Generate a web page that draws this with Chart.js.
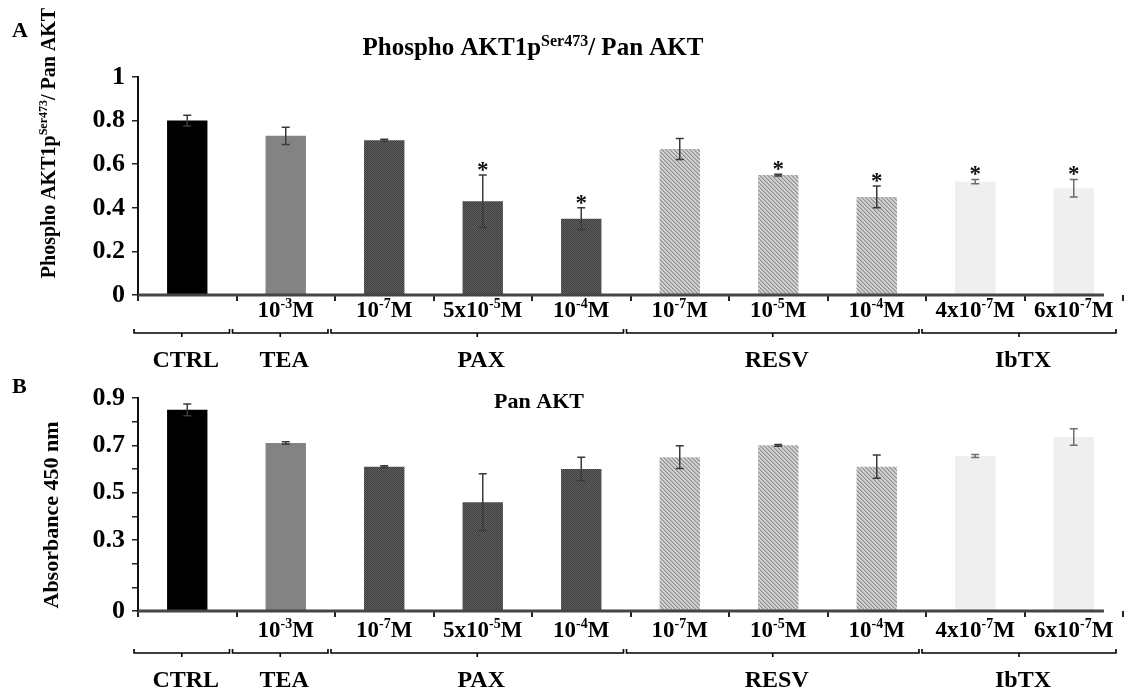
<!DOCTYPE html>
<html>
<head>
<meta charset="utf-8">
<script src="https://cdn.jsdelivr.net/npm/chart.js@4"></script>
<style>
  body { margin: 0; background: #fff; }
  #wrap { position: relative; width: 1147px; height: 691px; overflow: hidden; }
  canvas { position: absolute; left: 0; }
</style>
</head>
<body>
<div id="wrap">
  <canvas id="phospho-chart" width="1147" height="370" style="top:0"></canvas>
  <canvas id="pan-chart" width="1147" height="321" style="top:370px"></canvas>
</div>
<script>
const categories = ['CTRL', 'TEA 10-3M', 'PAX 10-7M', 'PAX 5x10-5M', 'PAX 10-4M',
    'RESV 10-7M', 'RESV 10-5M', 'RESV 10-4M', 'IbTX 4x10-7M', 'IbTX 6x10-7M'];
// dose label pieces: [base, superscript, suffix]
const doseLabels = [null, ['10', '-3', 'M'], ['10', '-7', 'M'], ['5x10', '-5', 'M'], ['10', '-4', 'M'],
    ['10', '-7', 'M'], ['10', '-5', 'M'], ['10', '-4', 'M'], ['4x10', '-7', 'M'], ['6x10', '-7', 'M']];
const groupNames = ['CTRL', 'TEA', 'PAX', 'RESV', 'IbTX'];
const groupOf = [0, 1, 2, 2, 2, 3, 3, 3, 4, 4];

const phosphoValues = [0.80, 0.73, 0.71, 0.43, 0.35, 0.67, 0.55, 0.45, 0.52, 0.49];
const phosphoErrors = [0.025, 0.04, 0.005, 0.12, 0.05, 0.048, 0.004, 0.05, 0.01, 0.04];
const phosphoStars = [false, false, false, true, true, false, true, true, true, true];
const phosphoTicks = [0, 0.2, 0.4, 0.6, 0.8, 1];

const panValues = [0.85, 0.71, 0.61, 0.46, 0.60, 0.65, 0.70, 0.61, 0.655, 0.735];
const panErrors = [0.025, 0.005, 0.004, 0.12, 0.05, 0.048, 0.004, 0.049, 0.006, 0.035];
const panTickLabels = [0, 0.3, 0.5, 0.7, 0.9];

const FONT = '"Liberation Serif", "Times New Roman", serif';

function makePattern(size, draw) {
    const c = document.createElement('canvas');
    c.width = size;
    c.height = size;
    draw(c.getContext('2d'));
    return c.getContext('2d').createPattern(c, 'repeat');
}

// PAX: dark checker, RESV: light diagonal hatch
const paxFill = makePattern(4, g => {
    g.fillStyle = '#616161';
    g.fillRect(0, 0, 4, 4);
    g.fillStyle = '#3d3d3d';
    g.fillRect(0, 0, 1, 1); g.fillRect(2, 0, 1, 1);
    g.fillRect(1, 1, 1, 1); g.fillRect(3, 1, 1, 1);
    g.fillRect(0, 2, 1, 1); g.fillRect(2, 2, 1, 1);
    g.fillRect(1, 3, 1, 1); g.fillRect(3, 3, 1, 1);
});
const resvFill = makePattern(4, g => {
    g.fillStyle = '#d2d2d2';
    g.fillRect(0, 0, 4, 4);
    g.fillStyle = '#929292';
    for (let i = 0; i < 4; i++) g.fillRect(i, i, 1, 1);
    g.fillStyle = '#b0b0b0';
    for (let i = 0; i < 4; i++) g.fillRect((i + 1) % 4, i, 1, 1);
});
const groupFills = ['#000000', '#838383', paxFill, resvFill, '#efefef'];
const barFills = groupOf.map(g => groupFills[g]);

function richText(ctx, parts, x, y, size, align) {
    const big = 'bold ' + size + 'px ' + FONT;
    const small = 'bold ' + Math.round(size * 0.62) + 'px ' + FONT;
    let w = 0;
    parts.forEach(p => { ctx.font = p[1] ? small : big; w += ctx.measureText(p[0]).width; });
    let cx = align === 'center' ? x - w / 2 : x;
    ctx.textAlign = 'left';
    ctx.textBaseline = 'alphabetic';
    parts.forEach(p => {
        ctx.font = p[1] ? small : big;
        ctx.fillText(p[0], cx, p[1] ? y - size * 0.38 : y);
        cx += ctx.measureText(p[0]).width;
    });
}

function overlayPlugin(opts) {
    return {
        id: 'overlay',
        afterDatasetsDraw(chart) {
            const ctx = chart.ctx;
            const xs = chart.scales.x, ys = chart.scales.y;
            ctx.save();
            // x axis line, stopping just past the last bar
            const meta = chart.getDatasetMeta(0);
            const last = meta.data[meta.data.length - 1];
            ctx.strokeStyle = '#454545';
            ctx.lineWidth = 3;
            ctx.beginPath();
            ctx.moveTo(chart.chartArea.left, chart.chartArea.bottom);
            ctx.lineTo(last.x + last.width / 2 + 10, chart.chartArea.bottom);
            ctx.stroke();

            ctx.lineWidth = 1.5;
            opts.values.forEach((v, i) => {
                const x = xs.getPixelForValue(i);
                const t = ys.getPixelForValue(v + opts.errors[i]);
                const b = ys.getPixelForValue(v - opts.errors[i]);
                ctx.strokeStyle = groupOf[i] === 4 ? '#6e6e6e' : '#3a3a3a';
                ctx.beginPath();
                ctx.moveTo(x, t); ctx.lineTo(x, b);
                ctx.moveTo(x - 4, t); ctx.lineTo(x + 4, t);
                ctx.moveTo(x - 4, b); ctx.lineTo(x + 4, b);
                ctx.stroke();
                if (opts.stars && opts.stars[i]) {
                    ctx.fillStyle = '#111';
                    ctx.font = 'bold 23px ' + FONT;
                    ctx.textAlign = 'center';
                    ctx.textBaseline = 'alphabetic';
                    ctx.fillText('*', x, t + 2);
                }
            });
            ctx.restore();
        },
        afterDraw(chart) {
            const ctx = chart.ctx;
            const xs = chart.scales.x;
            const axisY = chart.chartArea.bottom;
            ctx.save();
            ctx.fillStyle = '#000';
            // dose labels under each bar
            doseLabels.forEach((d, i) => {
                if (!d) return;
                richText(ctx, [[d[0], false], [d[1], true], [d[2], false]],
                    xs.getPixelForValue(i), axisY + opts.doseOffset, 23, 'center');
            });
            // group brackets and names
            const step = xs.getPixelForValue(1) - xs.getPixelForValue(0);
            ctx.strokeStyle = '#000';
            ctx.lineWidth = 1.6;
            groupNames.forEach((name, g) => {
                const idx = groupOf.map((v, i) => v === g ? i : -1).filter(i => i >= 0);
                const x0 = xs.getPixelForValue(idx[0]) - step / 2 - 4;
                const x1 = xs.getPixelForValue(idx[idx.length - 1]) + step / 2 - 7;
                const by = axisY + opts.bracketOffset;
                const mid = (x0 + x1) / 2;
                ctx.beginPath();
                ctx.moveTo(x0, by - 4); ctx.lineTo(x0, by); ctx.lineTo(x1, by); ctx.lineTo(x1, by - 4);
                ctx.moveTo(mid, by); ctx.lineTo(mid, by + 4);
                ctx.stroke();
                ctx.font = 'bold 24px ' + FONT;
                ctx.textAlign = 'center';
                ctx.textBaseline = 'alphabetic';
                ctx.fillText(name, mid + 4, by + opts.groupOffset);
            });
            // panel letter
            ctx.font = 'bold 22px ' + FONT;
            ctx.textAlign = 'left';
            ctx.fillText(opts.letter, 12, opts.letterY);
            // chart title
            richText(ctx, opts.title, opts.titleX, opts.titleY, opts.titleSize, 'center');
            // y axis title, rotated
            ctx.translate(opts.yTitleX, opts.yTitleY);
            ctx.rotate(-Math.PI / 2);
            richText(ctx, opts.yTitle, 0, 0, opts.yTitleSize, 'center');
            ctx.restore();
        }
    };
}

function makeConfig(values, yOpts, area, overlay) {
    return {
        type: 'bar',
        data: {
            labels: categories,
            datasets: [{
                data: values,
                backgroundColor: barFills,
                borderWidth: 0,
                categoryPercentage: 1,
                barPercentage: 0.41
            }]
        },
        options: {
            responsive: false,
            animation: false,
            devicePixelRatio: 1,
            layout: { padding: { top: area.top, right: 24, left: 0, bottom: 0 } },
            plugins: { legend: { display: false }, tooltip: { enabled: false } },
            scales: {
                x: {
                    grid: {
                        display: true, drawOnChartArea: false, drawTicks: true, tickLength: 6, lineWidth: 2,
                        color: c => c.index >= categories.length ? 'rgba(0,0,0,0)' : '#222'
                    },
                    border: { display: false },
                    ticks: { callback: () => '' },
                    afterFit: s => { s.height = area.xHeight; }
                },
                y: Object.assign({
                    min: 0,
                    grid: { display: true, drawOnChartArea: false, drawTicks: true, tickLength: 6, color: '#222', lineWidth: 1.5 },
                    border: { display: true, color: '#111', width: 2 },
                    afterFit: s => { s.width = 138; }
                }, yOpts)
            }
        },
        plugins: [overlayPlugin(overlay)]
    };
}

const tickFont = { family: FONT, size: 26, weight: 'bold' };

const phosphoChart = new Chart(
    document.getElementById('phospho-chart'),
    makeConfig(phosphoValues, {
        max: 1,
        ticks: {
            stepSize: 0.2, padding: 7, color: '#000', autoSkip: false, font: tickFont,
            callback: v => phosphoTicks.includes(Math.round(v * 10) / 10) ? String(Math.round(v * 10) / 10) : ''
        }
    }, { top: 77, xHeight: 75 }, {
        values: phosphoValues, errors: phosphoErrors, stars: phosphoStars,
        doseOffset: 22, bracketOffset: 38, groupOffset: 34,
        letter: 'A', letterY: 37,
        title: [['Phospho AKT1p', false], ['Ser473', true], ['/ Pan AKT', false]],
        titleX: 533, titleY: 55, titleSize: 25,
        yTitle: [['Phospho AKT1p', false], ['Ser473', true], ['/ Pan AKT', false]],
        yTitleX: 55, yTitleY: 143, yTitleSize: 20
    })
);

const panChart = new Chart(
    document.getElementById('pan-chart'),
    makeConfig(panValues, {
        max: 0.9,
        ticks: {
            stepSize: 0.1, padding: 7, color: '#000', autoSkip: false, font: tickFont,
            callback: v => panTickLabels.includes(Math.round(v * 10) / 10) ? String(Math.round(v * 10) / 10) : ''
        }
    }, { top: 28, xHeight: 80 }, {
        values: panValues, errors: panErrors, stars: null,
        doseOffset: 26, bracketOffset: 42, groupOffset: 34,
        letter: 'B', letterY: 23,
        title: [['Pan AKT', false]],
        titleX: 539, titleY: 38, titleSize: 22,
        yTitle: [['Absorbance 450 nm', false]],
        yTitleX: 58, yTitleY: 145, yTitleSize: 22
    })
);
</script>
</body>
</html>
